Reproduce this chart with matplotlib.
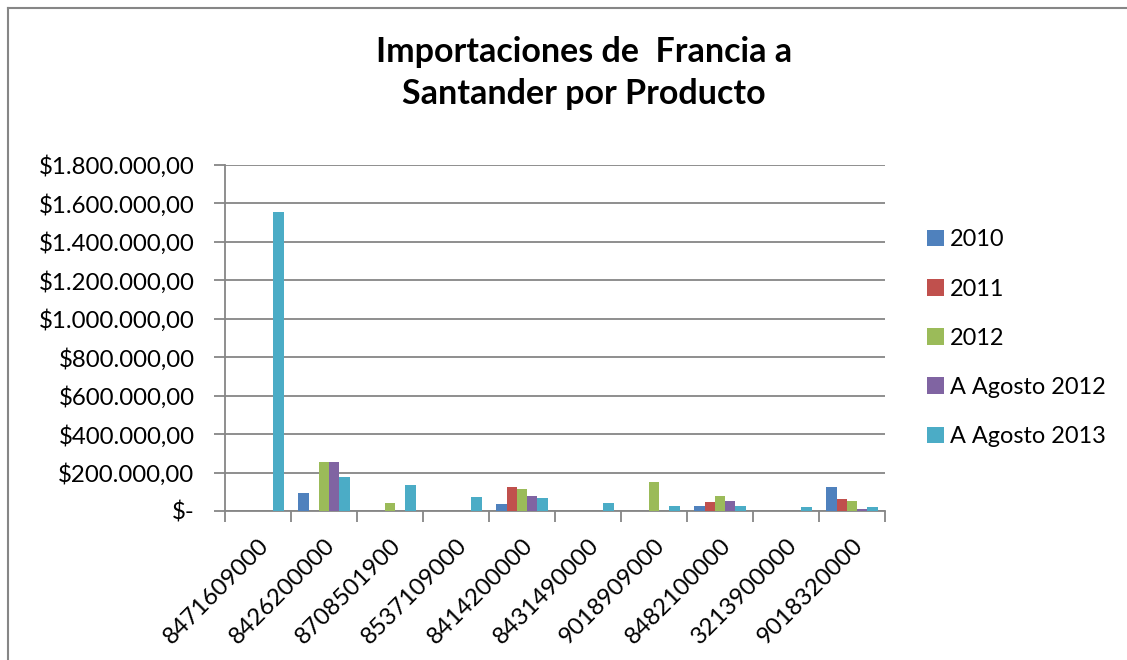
import matplotlib.pyplot as plt
import numpy as np
from matplotlib.lines import Line2D
from matplotlib.ticker import FuncFormatter

# Data
productos = ['8471609000', '8426200000', '8708501900', '8537109000', '8414200000',
             '8431490000', '9018909000', '8482100000', '3213900000', '9018320000']
series = ['2010', '2011', '2012', 'A Agosto 2012', 'A Agosto 2013']
v2010 = [0, 95000, 0, 0, 36000, 0, 0, 26000, 0, 123000]
v2011 = [0, 0, 0, 0, 123000, 0, 0, 48000, 0, 61000]
v2012 = [0, 255000, 43000, 0, 116000, 0, 149000, 80000, 0, 52000]
vago2012 = [0, 255000, 0, 0, 78000, 0, 0, 50000, 0, 10000]
vago2013 = [1553000, 177000, 135000, 74000, 66000, 40000, 26000, 26000, 22000, 21000]
colores = ['#4F81BD', '#C0504D', '#9BBB59', '#8064A2', '#4BACC6']

plt.rcParams['font.family'] = ['Lato', 'DejaVu Sans']

fig = plt.figure(figsize=(11.27, 6.6), dpi=100)
ax = fig.add_axes([0.1996, 0.2258, 0.5857, 0.5242])

x = np.arange(len(productos))
w = 0.155
valores = [v2010, v2011, v2012, vago2012, vago2013]
for i, (nombre, vals) in enumerate(zip(series, valores)):
    ax.bar(x + (i - 2) * w, vals, w, color=colores[i], label=nombre, zorder=3)

ax.set_xlim(-0.5, len(productos) - 0.5)
ax.set_ylim(0, 1800000)
ax.set_yticks(np.arange(0, 1800001, 200000))


def fmt(v, pos):
    if v == 0:
        return '$-'
    s = f'{v:,.2f}'.replace(',', 'X').replace('.', ',').replace('X', '.')
    return '$' + s


ax.yaxis.set_major_formatter(FuncFormatter(fmt))
ax.yaxis.grid(True, color='#868686', linewidth=1.3, zorder=0)
ax.set_xticks(np.arange(-0.5, len(productos) + 0.5, 1))
ax.set_xticklabels([])
ax.set_xticks(x, minor=True)
ax.set_xticklabels(productos, minor=True, rotation=45, ha='right', va='top',
                   rotation_mode='anchor', fontsize=17.3)
ax.tick_params(axis='x', which='minor', length=0, pad=17)
ax.tick_params(axis='x', which='major', length=8, width=1.3, color='#868686')
ax.tick_params(axis='y', length=8, width=1.3, color='#868686', labelsize=17.3, pad=14)
for side in ['top', 'right']:
    ax.spines[side].set_visible(False)
for side in ['left', 'bottom']:
    ax.spines[side].set_color('#868686')
    ax.spines[side].set_linewidth(1.3)

fig.text(0.518, 0.889, 'Importaciones de  Francia a\nSantander por Producto',
         ha='center', va='center', fontsize=24.5, fontweight='bold', linespacing=1.38)

ax.legend(loc='upper left', bbox_to_anchor=(1.032, 0.875), frameon=False,
          fontsize=16.9, handlelength=0.7, handleheight=0.7, handletextpad=0.25,
          labelspacing=1.2)

# outer chart frame (left and top only visible)
fig.add_artist(Line2D([0.0075, 0.0075], [0, 0.988], transform=fig.transFigure,
                      color='#868686', linewidth=1.5))
fig.add_artist(Line2D([0.0075, 1], [0.988, 0.988], transform=fig.transFigure,
                      color='#868686', linewidth=1.5))

fig.savefig('out.png', dpi=100)
